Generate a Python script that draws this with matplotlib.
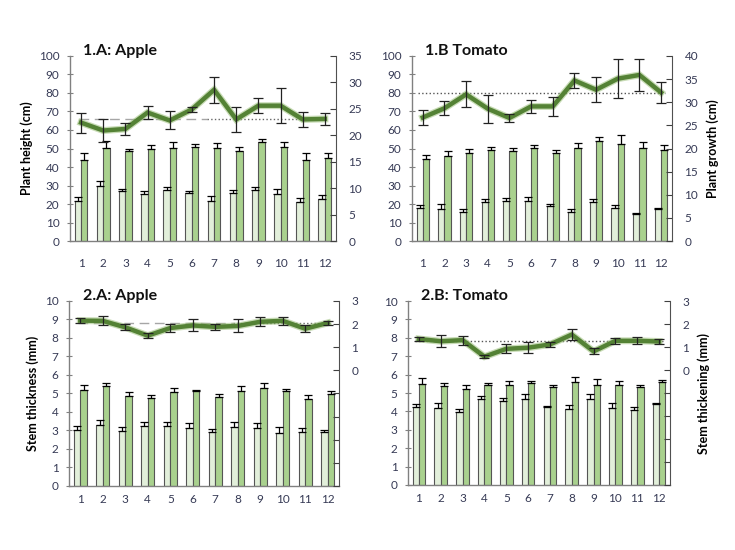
import numpy as np
import matplotlib
matplotlib.use("Agg")
import matplotlib.pyplot as plt
import matplotlib.patheffects as pe

plt.rcParams['font.family'] = ['Lato', 'DejaVu Sans']

months = list(range(1, 13))

# 1.A Apple - plant height (left axis) and plant growth (right axis)
a_height_light = [21.5, 29.8, 26.9, 25.3, 27.6, 26.2, 21.5, 26.2, 27.4, 25.3, 20.9, 22.6]
a_height_light_err = [2.2, 2.5, 1.0, 1.8, 1.5, 1.0, 3.0, 1.6, 2.0, 3.0, 2.4, 2.0]
a_height_dark = [43.7, 50.4, 48.6, 49.8, 50.4, 50.9, 50.4, 48.7, 53.4, 50.7, 43.7, 45.1]
a_height_dark_err = [3.8, 3.6, 1.3, 2.2, 3.2, 1.6, 2.5, 2.2, 1.6, 2.9, 3.8, 2.3]
a_growth = [22.4, 20.9, 21.2, 24.3, 22.8, 24.9, 28.6, 23.0, 25.6, 25.6, 23.0, 23.1]
a_growth_err = [1.9, 2.1, 1.1, 1.3, 1.7, 0.5, 2.4, 2.3, 1.4, 3.3, 1.4, 1.2]
a_growth_ref = 23.1

# 1.B Tomato
t_height_light = [17.9, 17.3, 15.7, 21.3, 21.5, 21.5, 18.8, 15.7, 21.3, 17.7, 14.6, 17.1]
t_height_light_err = [1.8, 2.9, 1.8, 1.3, 1.8, 2.3, 1.1, 1.8, 1.3, 1.6, 0.4, 0.9]
t_height_dark = [44.2, 45.8, 47.7, 49.3, 48.4, 50.5, 47.7, 50.4, 54.2, 52.5, 50.4, 49.1]
t_height_dark_err = [2.2, 2.9, 2.2, 1.6, 2.0, 1.4, 1.6, 2.5, 2.2, 4.7, 3.2, 2.9]
t_growth = [26.7, 28.7, 31.7, 28.6, 26.6, 29.1, 29.1, 34.7, 32.7, 35.1, 35.9, 32.1]
t_growth_err = [1.7, 1.5, 2.8, 3.0, 0.9, 1.4, 2.1, 1.7, 2.7, 4.2, 3.4, 2.2]
t_growth_ref = 32.0

# 2.A Apple - stem thickness (left) and stem thickening (right)
a_stem_light = [3.03, 3.32, 2.99, 3.26, 3.26, 3.15, 2.92, 3.21, 3.15, 2.88, 2.94, 2.94]
a_stem_light_err = [0.22, 0.27, 0.20, 0.20, 0.20, 0.25, 0.16, 0.25, 0.25, 0.30, 0.20, 0.09]
a_stem_dark = [5.21, 5.42, 4.86, 4.77, 5.10, 5.12, 4.83, 5.15, 5.32, 5.12, 4.72, 4.97]
a_stem_dark_err = [0.25, 0.14, 0.22, 0.14, 0.20, 0.09, 0.14, 0.25, 0.25, 0.13, 0.22, 0.16]
a_thick = [2.15, 2.14, 1.86, 1.50, 1.83, 1.94, 1.88, 1.92, 2.10, 2.14, 1.80, 2.05]
a_thick_err = [0.10, 0.20, 0.13, 0.10, 0.17, 0.26, 0.13, 0.28, 0.20, 0.16, 0.15, 0.07]
a_thick_ref = 2.05

# 2.B Tomato
t_stem_light = [4.23, 4.16, 3.95, 4.65, 4.56, 4.65, 4.23, 4.13, 4.70, 4.16, 4.05, 4.38]
t_stem_light_err = [0.18, 0.30, 0.20, 0.20, 0.18, 0.27, 0.07, 0.23, 0.25, 0.30, 0.18, 0.07]
t_stem_dark = [5.50, 5.39, 5.24, 5.46, 5.46, 5.57, 5.30, 5.62, 5.46, 5.44, 5.30, 5.62]
t_stem_dark_err = [0.32, 0.16, 0.22, 0.09, 0.20, 0.10, 0.14, 0.25, 0.30, 0.20, 0.14, 0.11]
t_thick = [1.35, 1.25, 1.30, 0.58, 0.92, 0.97, 1.11, 1.54, 0.81, 1.27, 1.27, 1.24]
t_thick_err = [0.09, 0.26, 0.20, 0.07, 0.19, 0.25, 0.12, 0.25, 0.13, 0.13, 0.16, 0.09]
t_thick_ref = 1.26

LIGHT = '#E2EFDA'
DARK = '#A9D18E'
LINE = '#548235'
TICKCOL = '#363A55'


def panel(rect, title, light, light_err, dark, dark_err, line, line_err, ref,
          ylim, yticks, rlim, rticks, rlabels, dash_until=None,
          ylabel=None, rlabel=None, xpad=8):
    ax = fig.add_axes(rect)
    x = np.array(months)
    w = 0.29
    z = np.zeros(len(x))
    ax.bar(x - w / 2, light, w, color=LIGHT, edgecolor='#555555', linewidth=0.8, zorder=2)
    ax.bar(x + w / 2, dark, w, color=DARK, edgecolor='#555555', linewidth=0.8, zorder=2)
    ax.errorbar(x - w / 2, light, yerr=[z, light_err], fmt='none', ecolor='black',
                elinewidth=0.9, capsize=3, capthick=0.9, zorder=3)
    ax.errorbar(x + w / 2, dark, yerr=[z, dark_err], fmt='none', ecolor='black',
                elinewidth=0.9, capsize=3, capthick=0.9, zorder=3)
    ax.set_xlim(0.5, 12.5)
    ax.set_ylim(*ylim)
    ax.set_yticks(yticks)
    ax.set_xticks(x)
    ax.tick_params(axis='x', length=0, pad=xpad, labelsize=8.5, labelcolor=TICKCOL)
    ax.tick_params(axis='y', direction='inout', length=5, width=0.8, color='#808080',
                   labelsize=8.5, labelcolor=TICKCOL, pad=5)
    for s in ['top', 'right']:
        ax.spines[s].set_visible(False)
    for s in ['left', 'bottom']:
        ax.spines[s].set_color('#808080')
        ax.spines[s].set_linewidth(1.0)
    ax.text(0.05, 1.025, title, transform=ax.transAxes, fontsize=11.5,
            fontweight='bold', va='center', ha='left', color='#111111')
    if ylabel:
        ax.set_ylabel(ylabel, fontsize=9, fontweight='bold', labelpad=4)

    ax2 = ax.twinx()
    ax2.set_ylim(*rlim)
    ax2.set_yticks(rticks)
    ax2.set_yticklabels(rlabels)
    ax2.tick_params(axis='y', direction='in', length=4, width=0.8, color='#404040',
                    labelsize=8.5, labelcolor=TICKCOL, pad=9)
    for s in ['top', 'left', 'bottom']:
        ax2.spines[s].set_visible(False)
    ax2.spines['right'].set_color('#505050')
    # reference level
    if dash_until is not None:
        ax2.plot([0.9, dash_until], [ref, ref], color='#A6A6A6', linewidth=1.0,
                 dashes=(7, 4), zorder=1)
        ax2.plot([dash_until, 12.1], [ref, ref], color='#666666', linewidth=1.0,
                 linestyle=':', zorder=1)
    else:
        ax2.plot([0.8, 12.2], [ref, ref], color='#555555', linewidth=1.0,
                 linestyle=':', zorder=1)
    ax2.plot(x, line, color=LINE, linewidth=3.2, solid_joinstyle='miter', zorder=3,
             path_effects=[pe.Stroke(linewidth=5.0, foreground='#9CC07A', alpha=0.55),
                           pe.Normal()])
    ax2.errorbar(x, line, yerr=line_err, fmt='none', ecolor='#222222',
                 elinewidth=0.9, capsize=3.5, capthick=0.9, zorder=4)
    if rlabel:
        ax2.set_ylabel(rlabel, fontsize=9, fontweight='bold', labelpad=6)
    return ax, ax2


fig = plt.figure(figsize=(7.35, 5.5), dpi=100)

panel([0.0952, 0.5618, 0.3619, 0.3364], '1.A: Apple',
      a_height_light, a_height_light_err, a_height_dark, a_height_dark_err,
      a_growth, a_growth_err, a_growth_ref,
      (0, 100), range(0, 101, 10), (0, 35), range(0, 36, 5),
      [str(v) for v in range(0, 36, 5)], dash_until=6.7,
      ylabel='Plant height (cm)', xpad=12)

panel([0.5605, 0.5618, 0.3537, 0.3364], '1.B Tomato',
      t_height_light, t_height_light_err, t_height_dark, t_height_dark_err,
      t_growth, t_growth_err, t_growth_ref,
      (0, 100), range(0, 101, 10), (0, 40), range(0, 41, 5),
      [str(v) for v in range(0, 41, 5)],
      rlabel='Plant growth (cm)', xpad=12)

rt = list(range(-5, 4))
rl = [str(v) if v >= 0 else '' for v in rt]

panel([0.0939, 0.1164, 0.3673, 0.3364], '2.A: Apple',
      a_stem_light, a_stem_light_err, a_stem_dark, a_stem_dark_err,
      a_thick, a_thick_err, a_thick_ref,
      (0, 10), range(0, 11), (-5, 3), rt, rl, dash_until=7.8,
      ylabel='Stem thickness (mm)', xpad=6)

panel([0.5551, 0.1182, 0.3565, 0.3345], '2.B: Tomato',
      t_stem_light, t_stem_light_err, t_stem_dark, t_stem_dark_err,
      t_thick, t_thick_err, t_thick_ref,
      (0, 10), range(0, 11), (-5, 3), rt, rl,
      rlabel='Stem thickening (mm)', xpad=6)

fig.savefig('out.png', dpi=100, facecolor='white')
